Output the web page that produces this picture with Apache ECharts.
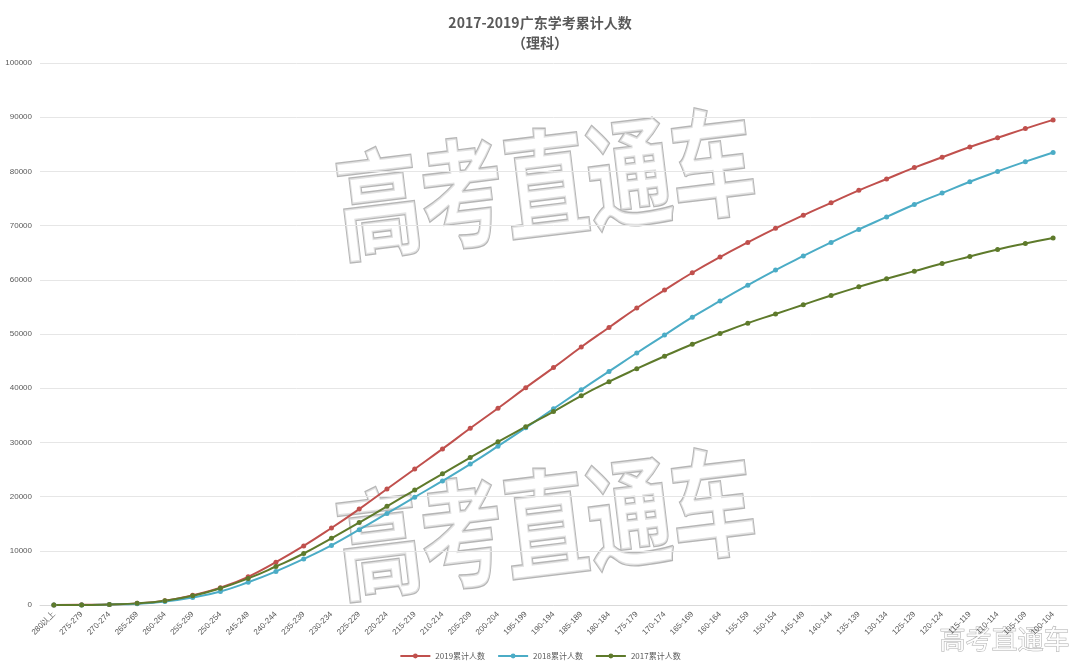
<!DOCTYPE html>
<html><head><meta charset="utf-8">
<script src="https://cdn.jsdelivr.net/npm/echarts@6/dist/echarts.min.js"></script>
<style>html,body{margin:0;padding:0;background:#fff}#c{width:1080px;height:671px}</style>
</head><body><div id="c"></div>
<script>
var categories = ['280以上'];
for (var s = 275; s >= 100; s -= 5) categories.push(s + '-' + (s + 4));
var y2019 = [0,50,100,300,800,1800,3200,5200,7900,10900,14200,17700,21400,25100,28800,32600,36300,40100,43800,47600,51200,54800,58100,61300,64200,66900,69500,71900,74200,76500,78600,80700,82600,84500,86200,87900,89500];
var y2018 = [0,0,100,250,650,1400,2500,4200,6200,8500,11000,13900,16900,19900,22900,26000,29300,32700,36200,39700,43100,46500,49800,53100,56100,59000,61800,64400,66900,69300,71600,73900,76000,78100,80000,81800,83500];
var y2017 = [0,0,100,300,800,1700,3100,4900,7100,9500,12300,15200,18200,21200,24200,27200,30100,32900,35700,38600,41200,43600,45900,48100,50100,52000,53700,55400,57100,58700,60200,61600,63000,64300,65600,66700,67700];

var chart = echarts.init(document.getElementById('c'));
function line(name, data, color) {
  return {name: name, type: 'line', data: data, smooth: true, symbol: 'circle', symbolSize: 5,
    lineStyle: {color: color, width: 2}, itemStyle: {color: color}};
}
var wm = {fontSize: 84, fontWeight: 'bold', fill: 'rgba(255,255,255,0.6)', stroke: 'rgba(120,120,120,0.55)', lineWidth: 2, fontFamily: 'Noto Sans CJK SC'};
chart.setOption({
  animation: false,
  title: {text: '2017-2019广东学考累计人数\n（理科）', left: 'center', top: 8,
    textStyle: {fontSize: 14, fontWeight: 'bold', color: '#595959', lineHeight: 20, fontFamily: 'Noto Sans CJK SC'}},
  legend: {bottom: 6, itemWidth: 30, itemHeight: 6, itemGap: 12, textStyle: {fontSize: 8, color: '#595959', fontFamily: 'Noto Sans CJK SC'}},
  grid: {left: 40, right: 13, top: 63, bottom: 66, containLabel: false},
  xAxis: {type: 'category', data: categories, boundaryGap: true,
    axisLine: {lineStyle: {color: '#d9d9d9'}}, axisTick: {show: false},
    axisLabel: {rotate: 45, fontSize: 8, color: '#595959', interval: 0, margin: 8}},
  yAxis: {type: 'value', min: 0, max: 100000, interval: 10000,
    axisLine: {show: false}, axisTick: {show: false},
    axisLabel: {fontSize: 8, color: '#595959', formatter: function (v) { return String(v); }},
    splitLine: {lineStyle: {color: '#e6e6e6'}}},
  graphic: [
    {type: 'text', x: 330, y: 150, rotation: 0.12, scaleY: 1.4, style: Object.assign({text: '高考直通车'}, wm)},
    {type: 'text', x: 330, y: 490, rotation: 0.12, scaleY: 1.4, style: Object.assign({text: '高考直通车'}, wm)},
    {type: 'text', right: 10, bottom: 18, style: {text: '高考直通车', fontSize: 26, fill: 'rgba(255,255,255,0.9)', stroke: 'rgba(150,150,150,0.8)', lineWidth: 1, fontFamily: 'Noto Sans CJK SC'}}
  ],
  series: [
    line('2019累计人数', y2019, '#c0504d'),
    line('2018累计人数', y2018, '#4bacc6'),
    line('2017累计人数', y2017, '#5e7a2b')
  ]
});
</script></body></html>
